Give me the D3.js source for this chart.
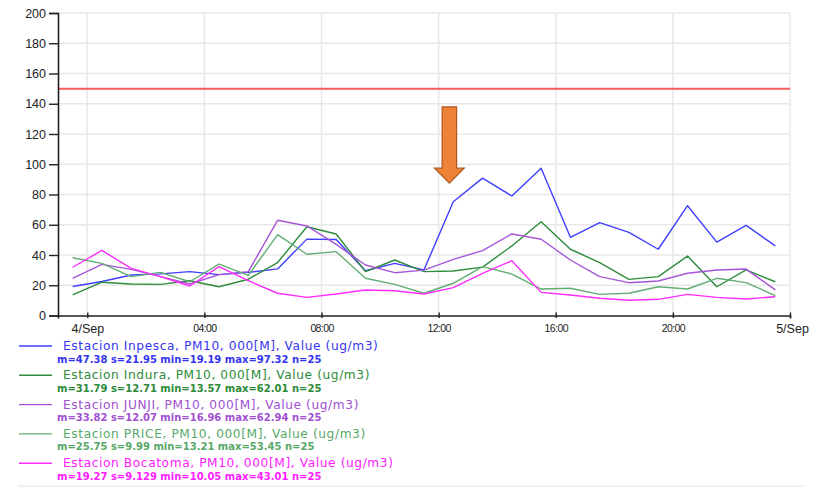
<!DOCTYPE html>
<html>
<head>
<meta charset="utf-8">
<script src="https://cdn.jsdelivr.net/npm/d3@7"></script>
<style>
  html, body { margin: 0; padding: 0; background: #fff; }
  svg { display: block; }
</style>
</head>
<body>
<svg id="chart" width="819" height="488"></svg>
<script>
// Hourly PM10 averages, 4 Sep (timestamps mark the middle of each hour)
const times = [
  "2015-09-03T23:30", "2015-09-04T00:30", "2015-09-04T01:30", "2015-09-04T02:30",
  "2015-09-04T03:30", "2015-09-04T04:30", "2015-09-04T05:30", "2015-09-04T06:30",
  "2015-09-04T07:30", "2015-09-04T08:30", "2015-09-04T09:30", "2015-09-04T10:30",
  "2015-09-04T11:30", "2015-09-04T12:30", "2015-09-04T13:30", "2015-09-04T14:30",
  "2015-09-04T15:30", "2015-09-04T16:30", "2015-09-04T17:30", "2015-09-04T18:30",
  "2015-09-04T19:30", "2015-09-04T20:30", "2015-09-04T21:30", "2015-09-04T22:30",
  "2015-09-04T23:30"
];

const inpesca  = [19.19, 22.5, 26.8, 27.5, 29.0, 27.0, 28.5, 30.8, 50.5, 50.2, 29.6, 34.5, 30.2,
                  75.2, 90.8, 79.0, 97.32, 51.7, 61.4, 55.0, 43.8, 72.6, 48.5, 59.6, 46.0];
const indura   = [13.57, 22.0, 20.8, 20.6, 23.0, 19.0, 24.0, 35.0, 58.7, 53.9, 29.0, 36.7, 29.0,
                  29.4, 32.0, 46.0, 62.01, 43.8, 35.0, 23.9, 25.7, 39.3, 19.0, 30.1, 22.3];
const junji    = [24.6, 33.8, 30.5, 25.7, 20.8, 27.0, 29.0, 62.94, 59.2, 47.0, 33.4, 28.3, 30.0,
                  37.1, 42.9, 53.9, 50.4, 36.7, 25.7, 21.7, 22.8, 27.9, 30.1, 30.7, 16.96];
const price    = [38.2, 34.5, 25.7, 28.5, 22.3, 34.0, 26.5, 53.45, 40.5, 42.2, 24.6, 20.6, 14.7,
                  21.3, 32.3, 27.4, 17.5, 18.0, 14.0, 14.7, 19.0, 17.5, 24.6, 21.7, 13.21];
const bocatoma = [31.9, 43.01, 31.2, 25.7, 19.5, 32.3, 23.0, 14.7, 12.0, 14.2, 16.9, 16.4, 14.2,
                  18.4, 27.9, 36.2, 15.3, 13.6, 11.4, 10.05, 10.7, 14.0, 12.0, 10.9, 12.4];

const seriesNames = [
  "Estacion Inpesca, PM10, 000[M], Value (ug/m3)",
  "Estacion Indura, PM10, 000[M], Value (ug/m3)",
  "Estacion JUNJI, PM10, 000[M], Value (ug/m3)",
  "Estacion PRICE, PM10, 000[M], Value (ug/m3)",
  "Estacion Bocatoma, PM10, 000[M], Value (ug/m3)"
];
const seriesStats = [
  "m=47.38 s=21.95 min=19.19 max=97.32 n=25",
  "m=31.79 s=12.71 min=13.57 max=62.01 n=25",
  "m=33.82 s=12.07 min=16.96 max=62.94 n=25",
  "m=25.75 s=9.99 min=13.21 max=53.45 n=25",
  "m=19.27 s=9.129 min=10.05 max=43.01 n=25"
];
const seriesColors = ["#3f3fff", "#2f8c3c", "#a655d8", "#62ad72", "#ff2cff"];
const legendColors = ["#3535f0", "#2c8a38", "#a050d0", "#58a868", "#ff20ff"];

const yTicks = [0, 20, 40, 60, 80, 100, 120, 140, 160, 180, 200];
const xTickTimes  = ["2015-09-04T00:00", "2015-09-04T04:00", "2015-09-04T08:00", "2015-09-04T12:00",
                     "2015-09-04T16:00", "2015-09-04T20:00", "2015-09-05T00:00"];
const xTickLabels = ["4/Sep", "04:00", "08:00", "12:00", "16:00", "20:00", "5/Sep"];

// Air quality limit line and the pointer arrow above the afternoon rise
const limitValue = 150;
const pointer = { time: "2015-09-04T12:22", top: 138, tip: 87.5 };

const parse = d3.isoParse;
const allSeries = [inpesca, indura, junji, price, bocatoma];

const svg = d3.select("#chart");
const margin = { left: 58, right: 29, top: 13, bottom: 172.5 };
const W = 819, H = 488;
const x = d3.scaleTime()
  .domain([parse("2015-09-03T23:00"), parse("2015-09-05T00:00")])
  .range([margin.left, W - margin.right]);
const y = d3.scaleLinear().domain([0, 200]).range([H - margin.bottom, margin.top]);

const plot = svg.append("g");

// grid
plot.append("g").selectAll("line.h").data(yTicks.slice(1)).join("line")
  .attr("x1", x.range()[0]).attr("x2", x.range()[1])
  .attr("y1", d => y(d)).attr("y2", d => y(d))
  .attr("stroke", "#e8e8e8").attr("stroke-width", 1.5);
plot.append("g").selectAll("line.v").data(xTickTimes).join("line")
  .attr("x1", d => x(parse(d))).attr("x2", d => x(parse(d)))
  .attr("y1", y(0)).attr("y2", y(200))
  .attr("stroke", "#e8e8e8").attr("stroke-width", 1.5);

// limit line
plot.append("line")
  .attr("x1", x.range()[0]).attr("x2", x.range()[1])
  .attr("y1", y(limitValue)).attr("y2", y(limitValue))
  .attr("stroke", "#f4474a").attr("stroke-width", 2).attr("stroke-opacity", 0.9);

// series
const line = d3.line()
  .x((d, i) => x(parse(times[i])))
  .y(d => y(d));
plot.append("g").selectAll("path").data(allSeries).join("path")
  .attr("d", d => line(d))
  .attr("fill", "none")
  .attr("stroke", (d, i) => seriesColors[i])
  .attr("stroke-width", 1.4)
  .attr("stroke-linejoin", "round");

// y axis
const yAxis = d3.axisLeft(y).tickValues(yTicks).tickSize(9).tickPadding(3);
const gy = svg.append("g").attr("transform", `translate(${margin.left},0)`).call(yAxis);
gy.select(".domain").attr("stroke", "#222").attr("stroke-width", 1.6);
gy.selectAll(".tick line").attr("stroke", "#222").attr("stroke-width", 1.4);
gy.selectAll(".tick text")
  .attr("font-family", "Liberation Sans, Arial, sans-serif")
  .attr("font-size", 12.5).attr("fill", "#222");

// x axis
const xAxis = d3.axisBottom(x)
  .tickValues(xTickTimes.map(parse))
  .tickFormat((d, i) => xTickLabels[i])
  .tickSizeOuter(0).tickSize(3).tickPadding(6);
const gx = svg.append("g").attr("transform", `translate(0,${y(0)})`).call(xAxis);
gx.select(".domain").attr("stroke", "#222").attr("stroke-width", 1.6);
gx.selectAll(".tick line").attr("y1", -3).attr("y2", 2.5).attr("stroke", "#222").attr("stroke-width", 1.4);
gx.selectAll(".tick text")
  .attr("font-family", "Liberation Sans, Arial, sans-serif")
  .attr("fill", "#222")
  .attr("font-size", (d, i) => (i === 0 || i === xTickLabels.length - 1) ? 12.5 : 10.5)
  .attr("letter-spacing", (d, i) => (i === 0 || i === xTickLabels.length - 1) ? 0 : -0.6);
gx.selectAll(".tick text").filter((d, i) => i === xTickLabels.length - 1).attr("dx", 2);

// pointer arrow
const ax = x(parse(pointer.time));
const yTop = y(pointer.top), yTip = y(pointer.tip);
const shaftHalf = 7.2, headHalf = 14.8, headLen = 15;
const arrowPts = [
  [ax - shaftHalf, yTop], [ax + shaftHalf, yTop], [ax + shaftHalf, yTip - headLen],
  [ax + headHalf, yTip - headLen], [ax, yTip], [ax - headHalf, yTip - headLen],
  [ax - shaftHalf, yTip - headLen]
];
svg.append("polygon")
  .attr("points", arrowPts.map(p => p.join(",")).join(" "))
  .attr("fill", "#ee8236").attr("stroke", "#b05a22").attr("stroke-width", 1.3);

// legend
const leg = svg.append("g");
const rowH = 29.3, leg0 = 346;
seriesNames.forEach((name, i) => {
  const ly = leg0 + i * rowH;
  leg.append("line").attr("x1", 19).attr("x2", 52).attr("y1", ly).attr("y2", ly)
    .attr("stroke", seriesColors[i]).attr("stroke-width", 1.4);
  leg.append("text").attr("x", 63).attr("y", ly + 4)
    .attr("font-family", "DejaVu Sans, Verdana, sans-serif")
    .attr("font-size", 12.2).attr("letter-spacing", 0.6)
    .attr("fill", legendColors[i]).text(name);
  leg.append("text").attr("x", 57).attr("y", ly + 16.5)
    .attr("font-family", "DejaVu Sans, Verdana, sans-serif")
    .attr("font-size", 10).attr("font-weight", "bold")
    .attr("fill", legendColors[i]).text(seriesStats[i]);
});
leg.append("line").attr("x1", 18).attr("x2", 805).attr("y1", 486).attr("y2", 486)
  .attr("stroke", "#e2e2e2").attr("stroke-width", 1);
</script>
</body>
</html>
